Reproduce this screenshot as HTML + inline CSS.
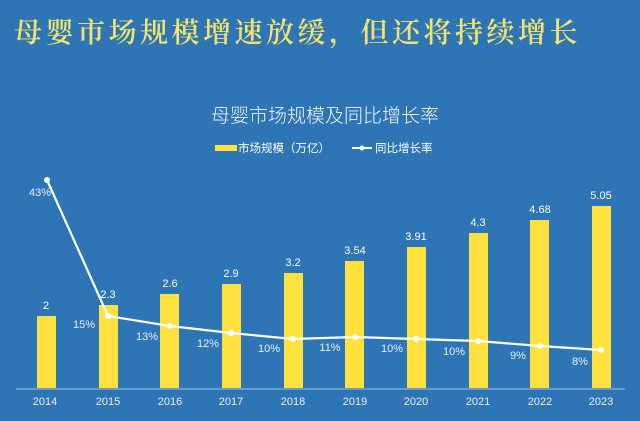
<!DOCTYPE html>
<html><head><meta charset="utf-8"><style>
body{margin:0;width:640px;height:416px;background:#2e75b6;overflow:hidden}
</style></head><body>
<svg width="640" height="416" xmlns="http://www.w3.org/2000/svg" font-family="Liberation Sans, Noto Sans CJK SC, sans-serif">
<rect width="640" height="416" fill="#2e75b6"/>
<text x="14" y="42" font-family="Noto Serif CJK SC, serif" font-weight="600" font-size="28" letter-spacing="3.5" fill="#f3e36a">母婴市场规模增速放缓，但还将持续增长</text>
<text x="325" y="122" text-anchor="middle" font-size="19" fill="#f2f6fb" font-family="Noto Sans CJK SC, sans-serif" font-weight="300">母婴市场规模及同比增长率</text>
<rect x="215" y="145" width="22" height="6" fill="#ffe03d"/>
<text x="238" y="152" font-size="11.5" fill="#fff" font-family="Noto Sans CJK SC, sans-serif">市场规模（万亿）</text>
<line x1="352" y1="148" x2="372" y2="148" stroke="#fff" stroke-width="2"/><circle cx="362" cy="148" r="2.5" fill="#fff"/>
<text x="375" y="152" font-size="11.5" fill="#fff" font-family="Noto Sans CJK SC, sans-serif">同比增长率</text>
<line x1="16" y1="389" x2="625" y2="389" stroke="#9fc0e0" stroke-width="1"/>
<g fill="#ffe03d">
<rect x="37" y="316" width="19" height="72"/>
<rect x="99" y="305" width="19" height="83"/>
<rect x="160" y="294" width="19" height="94"/>
<rect x="222" y="284" width="19" height="104"/>
<rect x="284" y="273" width="19" height="115"/>
<rect x="345" y="261" width="19" height="127"/>
<rect x="407" y="247" width="19" height="141"/>
<rect x="469" y="233" width="19" height="155"/>
<rect x="530" y="220" width="19" height="168"/>
<rect x="592" y="206" width="19" height="182"/>
</g>
<g fill="#fff" font-size="11" text-anchor="middle">
<text x="46" y="309">2</text><text x="108" y="298">2.3</text><text x="170" y="287">2.6</text><text x="231" y="277">2.9</text><text x="293" y="266">3.2</text><text x="355" y="254">3.54</text><text x="416" y="240">3.91</text><text x="478" y="226">4.3</text><text x="540" y="213">4.68</text><text x="601" y="199">5.05</text>
</g>
<polyline fill="none" stroke="#fff" stroke-width="2.2" points="47,180 108,316 170,326 231,333 293,339 355,337 416,339 478,341 540,346 601,350"/>
<g fill="#fff"><circle cx="47" cy="180" r="3"/><circle cx="108" cy="316" r="3"/><circle cx="170" cy="326" r="3"/><circle cx="231" cy="333" r="3"/><circle cx="293" cy="339" r="3"/><circle cx="355" cy="337" r="3"/><circle cx="416" cy="339" r="3"/><circle cx="478" cy="341" r="3"/><circle cx="540" cy="346" r="3"/><circle cx="601" cy="350" r="3"/></g>
<g fill="#e8f0f8" font-size="11" text-anchor="middle">
<text x="40" y="196">43%</text><text x="84" y="328">15%</text><text x="147" y="340">13%</text><text x="208" y="347">12%</text><text x="269" y="352">10%</text><text x="330" y="351">11%</text><text x="392" y="352">10%</text><text x="454" y="355">10%</text><text x="518" y="359">9%</text><text x="580" y="365">8%</text>
</g>
<g fill="#e8f0f8" font-size="11" text-anchor="middle">
<text x="45" y="405">2014</text><text x="108" y="405">2015</text><text x="170" y="405">2016</text><text x="231" y="405">2017</text><text x="293" y="405">2018</text><text x="355" y="405">2019</text><text x="416" y="405">2020</text><text x="478" y="405">2021</text><text x="540" y="405">2022</text><text x="601" y="405">2023</text>
</g>
</svg>
</body></html>
